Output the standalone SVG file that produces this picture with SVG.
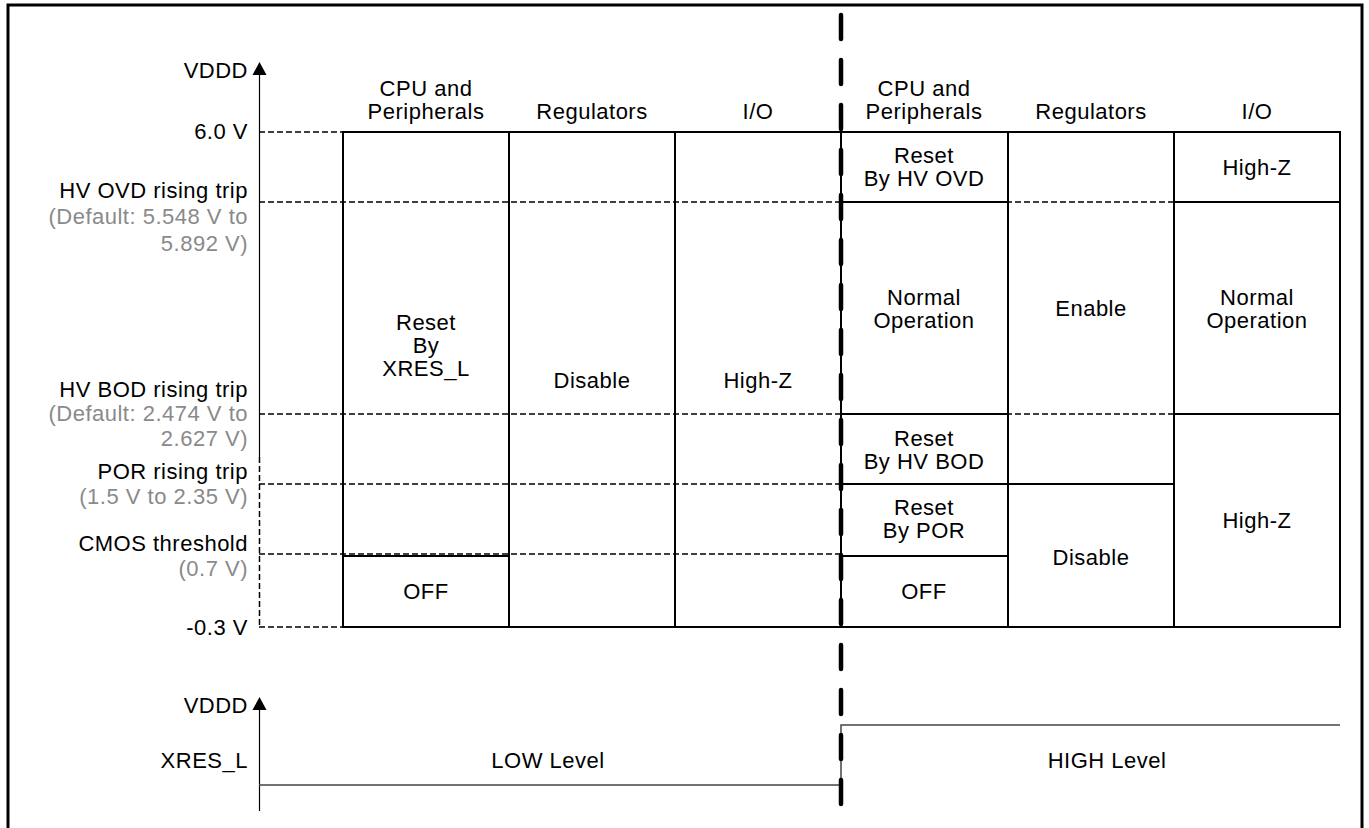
<svg xmlns="http://www.w3.org/2000/svg" width="1369" height="828" viewBox="0 0 1369 828">
<defs>
<style>
text{font-family:"Liberation Sans",Arial,sans-serif;font-size:22px;letter-spacing:0.5px;fill:#000}
.r{text-anchor:end}
.c{text-anchor:middle}
.g{fill:#8a8a8a}
.cell{fill:none;stroke:#000;stroke-width:2}
.dash{fill:none;stroke:#000;stroke-width:1.5;stroke-dasharray:6 3}
.axis{fill:none;stroke:#000;stroke-width:1.2}
.thin{fill:none;stroke:#444;stroke-width:1.5}
.div{fill:none;stroke:#000;stroke-width:4.5;stroke-linecap:round;stroke-dasharray:24 21}
</style>
</defs>
<rect x="0" y="0" width="1369" height="828" fill="#fff"/>
<rect x="8" y="5" width="1354" height="840" fill="none" stroke="#000" stroke-width="3"/>

<g id="axis-top">
<line x1="259.5" y1="70" x2="259.5" y2="457" class="axis"/>
<line x1="259.5" y1="457" x2="259.5" y2="627" class="dash"/>
<polygon points="259.5,62 252.5,75 266.5,75" fill="#000"/>
</g>

<g id="thresholds">
<line x1="259" y1="132" x2="343" y2="132" class="dash"/>
<line x1="259" y1="202" x2="1174" y2="202" class="dash"/>
<line x1="259" y1="414" x2="1174" y2="414" class="dash"/>
<line x1="259" y1="484" x2="841" y2="484" class="dash"/>
<line x1="259" y1="554" x2="841" y2="554" class="dash"/>
<line x1="259" y1="627" x2="343" y2="627" class="dash"/>
</g>

<g id="labels">
<text x="248" y="78" class="r">VDDD</text>
<text x="248" y="139" class="r">6.0 V</text>
<text x="248" y="198" class="r">HV OVD rising trip</text>
<text x="248" y="224" class="r g">(Default: 5.548 V to</text>
<text x="248" y="251" class="r g">5.892 V)</text>
<text x="248" y="397" class="r">HV BOD rising trip</text>
<text x="248" y="421" class="r g">(Default: 2.474 V to</text>
<text x="248" y="446" class="r g">2.627 V)</text>
<text x="248" y="479" class="r">POR rising trip</text>
<text x="248" y="504" class="r g">(1.5 V to 2.35 V)</text>
<text x="248" y="551" class="r">CMOS threshold</text>
<text x="248" y="576" class="r g">(0.7 V)</text>
<text x="248" y="635" class="r">-0.3 V</text>
</g>

<g id="headers">
<text x="426" y="96" class="c">CPU and</text>
<text x="426" y="119" class="c">Peripherals</text>
<text x="592" y="119" class="c">Regulators</text>
<text x="758" y="119" class="c">I/O</text>
<text x="924" y="96" class="c">CPU and</text>
<text x="924" y="119" class="c">Peripherals</text>
<text x="1091" y="119" class="c">Regulators</text>
<text x="1257" y="119" class="c">I/O</text>
</g>

<g id="left-cpu">
<rect x="343" y="132" width="166" height="424" class="cell"/>
<text x="426" y="330" class="c">Reset</text>
<text x="426" y="353" class="c">By</text>
<text x="426" y="376" class="c">XRES_L</text>
</g>
<g id="left-cpu-off">
<rect x="343" y="556" width="166" height="71" class="cell"/>
<text x="426" y="599" class="c">OFF</text>
</g>
<g id="left-reg">
<rect x="509" y="132" width="166" height="495" class="cell"/>
<text x="592" y="388" class="c">Disable</text>
</g>
<g id="left-io">
<rect x="675" y="132" width="166" height="495" class="cell"/>
<text x="758" y="388" class="c">High-Z</text>
</g>

<g id="right-cpu-ovd">
<rect x="841" y="132" width="167" height="70" class="cell"/>
<text x="924" y="163" class="c">Reset</text>
<text x="924" y="186" class="c">By HV OVD</text>
</g>
<g id="right-cpu-normal">
<rect x="841" y="202" width="167" height="212" class="cell"/>
<text x="924" y="305" class="c">Normal</text>
<text x="924" y="328" class="c">Operation</text>
</g>
<g id="right-cpu-bod">
<rect x="841" y="414" width="167" height="70" class="cell"/>
<text x="924" y="446" class="c">Reset</text>
<text x="924" y="469" class="c">By HV BOD</text>
</g>
<g id="right-cpu-por">
<rect x="841" y="484" width="167" height="72" class="cell"/>
<text x="924" y="515" class="c">Reset</text>
<text x="924" y="538" class="c">By POR</text>
</g>
<g id="right-cpu-off">
<rect x="841" y="556" width="167" height="71" class="cell"/>
<text x="924" y="599" class="c">OFF</text>
</g>
<g id="right-reg-enable">
<rect x="1008" y="132" width="166" height="352" class="cell"/>
<text x="1091" y="316" class="c">Enable</text>
</g>
<g id="right-reg-disable">
<rect x="1008" y="484" width="166" height="143" class="cell"/>
<text x="1091" y="565" class="c">Disable</text>
</g>
<g id="right-io-hz1">
<rect x="1174" y="132" width="166" height="70" class="cell"/>
<text x="1257" y="175" class="c">High-Z</text>
</g>
<g id="right-io-normal">
<rect x="1174" y="202" width="166" height="212" class="cell"/>
<text x="1257" y="305" class="c">Normal</text>
<text x="1257" y="328" class="c">Operation</text>
</g>
<g id="right-io-hz2">
<rect x="1174" y="414" width="166" height="213" class="cell"/>
<text x="1257" y="528" class="c">High-Z</text>
</g>

<g id="xres-axis">
<line x1="259.5" y1="705" x2="259.5" y2="811" class="axis"/>
<polygon points="259.5,697 252.5,710 266.5,710" fill="#000"/>
<text x="248" y="713" class="r">VDDD</text>
<text x="248" y="768" class="r">XRES_L</text>
</g>

<g id="connectors">
<polyline points="259,785 841,785 841,725 1340,725" class="thin"/>
<line x1="841" y1="15" x2="841" y2="806" class="div"/>
</g>

<g id="levels">
<text x="548" y="768" class="c">LOW Level</text>
<text x="1107" y="768" class="c">HIGH Level</text>
</g>
</svg>
